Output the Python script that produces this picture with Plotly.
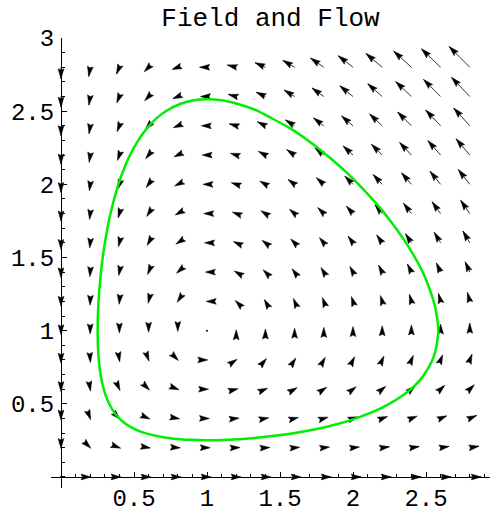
import math
import plotly.graph_objects as go

# grid of the vector field
grid_x = [0.0, 0.2, 0.4, 0.6, 0.8, 1.0, 1.2, 1.4, 1.6, 1.8, 2.0, 2.2, 2.4, 2.6, 2.8]
grid_y = [0.0, 0.2, 0.4, 0.6, 0.8, 1.0, 1.2, 1.4, 1.6, 1.8, 2.0, 2.2, 2.4, 2.6, 2.8]

# horizontal component, one row per y value (bottom row first)
field_u = [
    [0, 0.2, 0.4, 0.6, 0.8, 1.0, 1.2, 1.4, 1.6, 1.8, 2.0, 2.2, 2.4, 2.6, 2.8],
    [0, 0.16, 0.32, 0.48, 0.64, 0.8, 0.96, 1.12, 1.28, 1.44, 1.6, 1.76, 1.92, 2.08, 2.24],
    [0, 0.12, 0.24, 0.36, 0.48, 0.6, 0.72, 0.84, 0.96, 1.08, 1.2, 1.32, 1.44, 1.56, 1.68],
    [0, 0.08, 0.16, 0.24, 0.32, 0.4, 0.48, 0.56, 0.64, 0.72, 0.8, 0.88, 0.96, 1.04, 1.12],
    [0, 0.04, 0.08, 0.12, 0.16, 0.2, 0.24, 0.28, 0.32, 0.36, 0.4, 0.44, 0.48, 0.52, 0.56],
    [0, 0, 0, 0, 0, 0, 0, 0, 0, 0, 0, 0, 0, 0, 0],
    [0, -0.04, -0.08, -0.12, -0.16, -0.2, -0.24, -0.28, -0.32, -0.36, -0.4, -0.44, -0.48, -0.52, -0.56],
    [0, -0.08, -0.16, -0.24, -0.32, -0.4, -0.48, -0.56, -0.64, -0.72, -0.8, -0.88, -0.96, -1.04, -1.12],
    [0, -0.12, -0.24, -0.36, -0.48, -0.6, -0.72, -0.84, -0.96, -1.08, -1.2, -1.32, -1.44, -1.56, -1.68],
    [0, -0.16, -0.32, -0.48, -0.64, -0.8, -0.96, -1.12, -1.28, -1.44, -1.6, -1.76, -1.92, -2.08, -2.24],
    [0, -0.2, -0.4, -0.6, -0.8, -1.0, -1.2, -1.4, -1.6, -1.8, -2.0, -2.2, -2.4, -2.6, -2.8],
    [0, -0.24, -0.48, -0.72, -0.96, -1.2, -1.44, -1.68, -1.92, -2.16, -2.4, -2.64, -2.88, -3.12, -3.36],
    [0, -0.28, -0.56, -0.84, -1.12, -1.4, -1.68, -1.96, -2.24, -2.52, -2.8, -3.08, -3.36, -3.64, -3.92],
    [0, -0.32, -0.64, -0.96, -1.28, -1.6, -1.92, -2.24, -2.56, -2.88, -3.2, -3.52, -3.84, -4.16, -4.48],
    [0, -0.36, -0.72, -1.08, -1.44, -1.8, -2.16, -2.52, -2.88, -3.24, -3.6, -3.96, -4.32, -4.68, -5.04],
]

# vertical component, same layout
field_v = [
    [0, 0, 0, 0, 0, 0, 0, 0, 0, 0, 0, 0, 0, 0, 0],
    [-0.2, -0.16, -0.12, -0.08, -0.04, 0, 0.04, 0.08, 0.12, 0.16, 0.2, 0.24, 0.28, 0.32, 0.36],
    [-0.4, -0.32, -0.24, -0.16, -0.08, 0, 0.08, 0.16, 0.24, 0.32, 0.4, 0.48, 0.56, 0.64, 0.72],
    [-0.6, -0.48, -0.36, -0.24, -0.12, 0, 0.12, 0.24, 0.36, 0.48, 0.6, 0.72, 0.84, 0.96, 1.08],
    [-0.8, -0.64, -0.48, -0.32, -0.16, 0, 0.16, 0.32, 0.48, 0.64, 0.8, 0.96, 1.12, 1.28, 1.44],
    [-1.0, -0.8, -0.6, -0.4, -0.2, 0, 0.2, 0.4, 0.6, 0.8, 1.0, 1.2, 1.4, 1.6, 1.8],
    [-1.2, -0.96, -0.72, -0.48, -0.24, 0, 0.24, 0.48, 0.72, 0.96, 1.2, 1.44, 1.68, 1.92, 2.16],
    [-1.4, -1.12, -0.84, -0.56, -0.28, 0, 0.28, 0.56, 0.84, 1.12, 1.4, 1.68, 1.96, 2.24, 2.52],
    [-1.6, -1.28, -0.96, -0.64, -0.32, 0, 0.32, 0.64, 0.96, 1.28, 1.6, 1.92, 2.24, 2.56, 2.88],
    [-1.8, -1.44, -1.08, -0.72, -0.36, 0, 0.36, 0.72, 1.08, 1.44, 1.8, 2.16, 2.52, 2.88, 3.24],
    [-2.0, -1.6, -1.2, -0.8, -0.4, 0, 0.4, 0.8, 1.2, 1.6, 2.0, 2.4, 2.8, 3.2, 3.6],
    [-2.2, -1.76, -1.32, -0.88, -0.44, 0, 0.44, 0.88, 1.32, 1.76, 2.2, 2.64, 3.08, 3.52, 3.96],
    [-2.4, -1.92, -1.44, -0.96, -0.48, 0, 0.48, 0.96, 1.44, 1.92, 2.4, 2.88, 3.36, 3.84, 4.32],
    [-2.6, -2.08, -1.56, -1.04, -0.52, 0, 0.52, 1.04, 1.56, 2.08, 2.6, 3.12, 3.64, 4.16, 4.68],
    [-2.8, -2.24, -1.68, -1.12, -0.56, 0, 0.56, 1.12, 1.68, 2.24, 2.8, 3.36, 3.92, 4.48, 5.04],
]

# the closed flow line (green), counter-clockwise from its right-most point
flow_x = [2.584, 2.577, 2.562, 2.540, 2.482, 2.420, 2.345, 2.250, 2.162, 2.050, 1.957, 1.850,
          1.728, 1.568, 1.432, 1.340, 1.200, 1.100, 1.000, 0.900, 0.815, 0.720, 0.655, 0.587,
          0.530, 0.473, 0.430, 0.393, 0.336, 0.310, 0.290, 0.275, 0.262, 0.255, 0.252, 0.251,
          0.252, 0.255, 0.260, 0.267, 0.280, 0.301, 0.330, 0.370, 0.420, 0.473, 0.550, 0.655,
          0.770, 0.884, 1.000, 1.112, 1.250, 1.340, 1.432, 1.568, 1.660, 1.750, 1.888, 2.000,
          2.116, 2.230, 2.345, 2.420, 2.482, 2.540, 2.562, 2.577, 2.584]
flow_y = [1.000, 1.080, 1.165, 1.240, 1.390, 1.507, 1.627, 1.758, 1.866, 1.988, 2.080, 2.175,
          2.273, 2.384, 2.457, 2.505, 2.552, 2.574, 2.582, 2.573, 2.549, 2.501, 2.452, 2.381,
          2.302, 2.200, 2.101, 2.000, 1.787, 1.656, 1.531, 1.411, 1.271, 1.160, 1.080, 1.000,
          0.925, 0.856, 0.790, 0.728, 0.652, 0.571, 0.500, 0.434, 0.381, 0.344, 0.308, 0.280,
          0.262, 0.254, 0.251, 0.253, 0.260, 0.268, 0.278, 0.295, 0.311, 0.328, 0.360, 0.394,
          0.436, 0.489, 0.560, 0.621, 0.692, 0.791, 0.850, 0.925, 1.000]

x_ticks = [0.5, 1, 1.5, 2, 2.5]
x_labels = ["0.5", "1", "1.5", "2", "2.5"]
y_ticks = [0.5, 1, 1.5, 2, 2.5, 3]
y_labels = ["0.5", "1", "1.5", "2", "2.5", "3"]

# plot geometry (pixels per data unit, equal on both axes)
PX = 146.0
X_RANGE = [-10 / PX, 429 / PX]
Y_RANGE = [-11 / PX, 3.0]

# longest vector spans one grid step; heads have a fixed pixel size
mag_max = max(math.hypot(u, v) for ru, rv in zip(field_u, field_v) for u, v in zip(ru, rv))
scale = 0.2 / mag_max
head_len = 10 / PX
head_w = 2.9 / PX

shaft_x, shaft_y = [], []
head_x, head_y = [], []
dot_x, dot_y = [], []
for j, y0 in enumerate(grid_y):
    for i, x0 in enumerate(grid_x):
        u = field_u[j][i]
        v = field_v[j][i]
        m = math.hypot(u, v)
        if m == 0:
            dot_x.append(x0)
            dot_y.append(y0)
            continue
        dx, dy = u / m, v / m
        x1, y1 = x0 + scale * u, y0 + scale * v
        if scale * m > head_len * 0.7:
            shaft_x += [x0, x1, None]
            shaft_y += [y0, y1, None]
        bx, by = x1 - head_len * dx, y1 - head_len * dy
        nx, ny = -dy, dx
        head_x += [x1, bx + head_w * nx, x1 - 0.85 * head_len * dx, bx - head_w * nx, x1, None]
        head_y += [y1, by + head_w * ny, y1 - 0.85 * head_len * dy, by - head_w * ny, y1, None]

fig = go.Figure()
fig.add_trace(go.Scatter(x=shaft_x, y=shaft_y, mode="lines",
                         line=dict(color="#333333", width=1), hoverinfo="skip"))
fig.add_trace(go.Scatter(x=head_x, y=head_y, mode="lines", fill="toself",
                         fillcolor="black", line=dict(color="black", width=0.5),
                         hoverinfo="skip"))
fig.add_trace(go.Scatter(x=dot_x, y=dot_y, mode="markers",
                         marker=dict(color="black", size=2), hoverinfo="skip"))
fig.add_trace(go.Scatter(x=flow_x, y=flow_y, mode="lines",
                         line=dict(color="#00ee00", width=2.5, shape="spline", smoothing=0.6),
                         hoverinfo="skip"))

tick_font = dict(family="Liberation Mono, Courier New, monospace", size=24, color="black")
fig.update_layout(
    width=490, height=507,
    margin=dict(l=51, r=0, t=38, b=19),
    paper_bgcolor="white", plot_bgcolor="white",
    showlegend=False,
    title=dict(text="Field and Flow", x=0.5, xref="paper", y=1 - 17 / 507, yanchor="middle",
               font=dict(family="Liberation Mono, Courier New, monospace", size=26, color="black")),
    xaxis=dict(range=X_RANGE, anchor="free", automargin=False,
               position=(0 - Y_RANGE[0]) / (Y_RANGE[1] - Y_RANGE[0]),
               showgrid=False, zeroline=False, showline=True, linecolor="black", linewidth=1,
               ticks="inside", ticklen=5, tickcolor="black", ticklabelstandoff=-1,
               tickvals=x_ticks, ticktext=x_labels, tickfont=tick_font,
               minor=dict(ticks="inside", ticklen=2.5, tickcolor="black", dtick=0.1, tick0=0)),
    yaxis=dict(range=Y_RANGE, anchor="free", automargin=False,
               position=(0 - X_RANGE[0]) / (X_RANGE[1] - X_RANGE[0]),
               showgrid=False, zeroline=False, showline=True, linecolor="black", linewidth=1,
               ticks="inside", ticklen=5, tickcolor="black", ticklabelstandoff=2,
               tickvals=y_ticks, ticktext=y_labels, tickfont=tick_font,
               minor=dict(ticks="inside", ticklen=2.5, tickcolor="black", dtick=0.1, tick0=0)),
)

# drop the default page margin so the figure sits at the window's corner
fig.write_html("out.html", config={"displayModeBar": False},
               post_script="document.body.style.margin='0';")
